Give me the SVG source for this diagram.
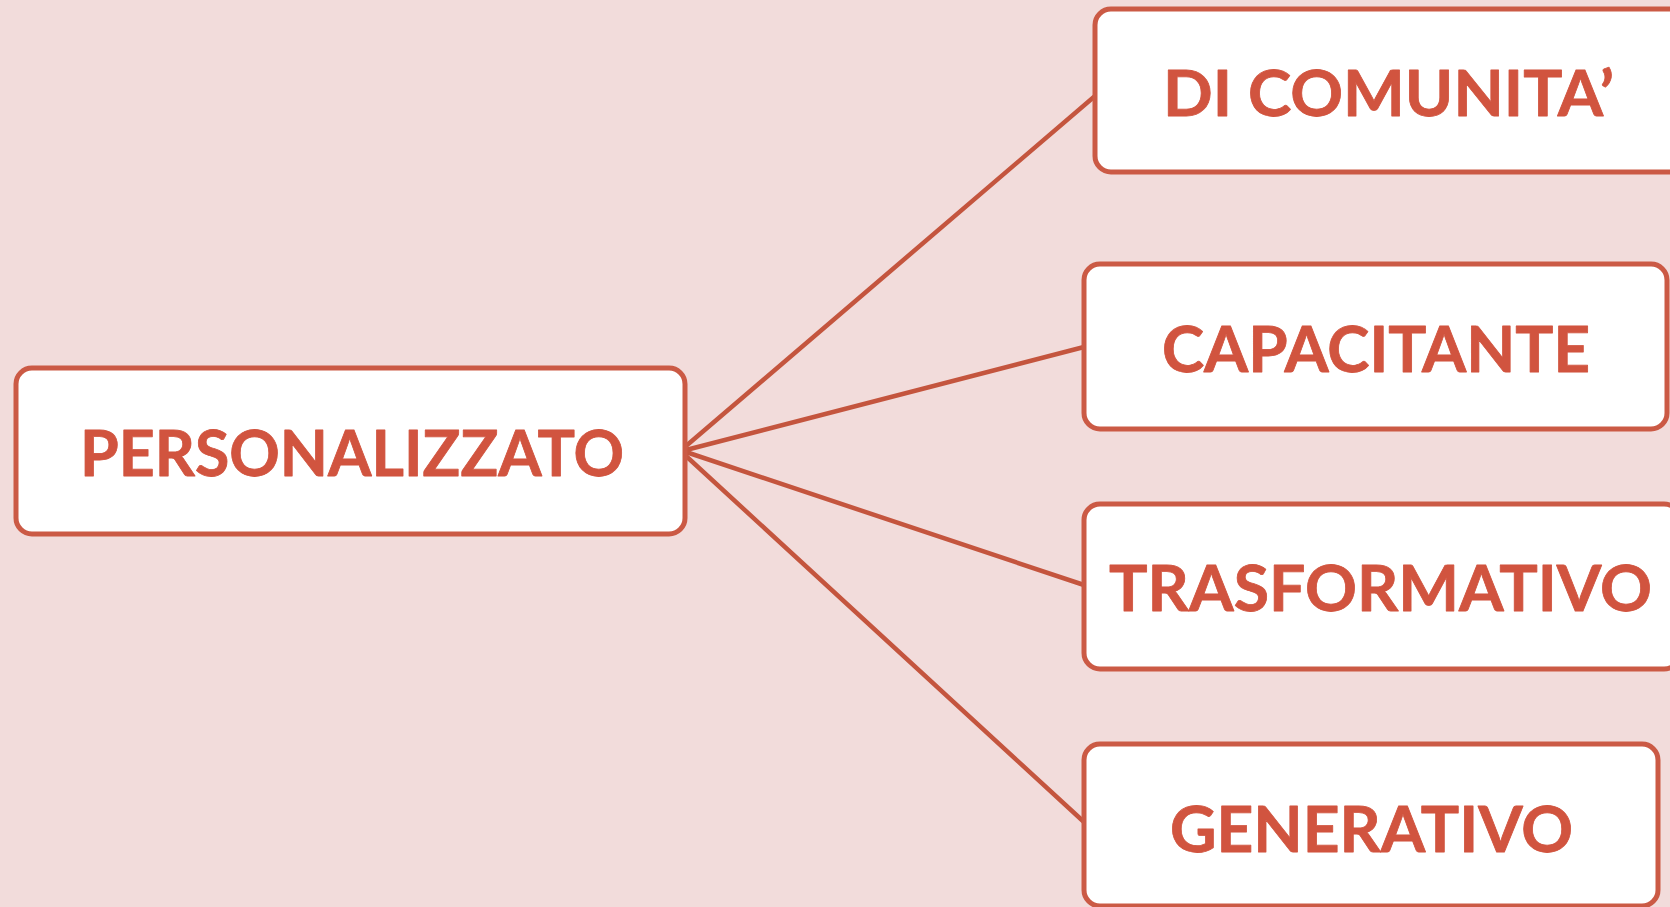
<svg xmlns="http://www.w3.org/2000/svg" width="1670" height="907" viewBox="0 0 1670 907">
  <style>
    .box { fill: #FFFFFF; stroke: #CB5A45; stroke-width: 5; }
    .link { stroke: #C4553E; stroke-width: 4.5; fill: none; stroke-linecap: round; }
    .label { font-family: Lato, "Open Sans", "Liberation Sans", sans-serif; font-weight: 700; font-size: 64px; fill: #D1543F; stroke: #D1543F; stroke-width: 0.8; stroke-linejoin: round; }
  </style>
  <rect x="0" y="0" width="1670" height="907" fill="#F2DCDB"/>

  <!-- connectors from the central node to each branch -->
  <g id="connectors">
    <line class="link" x1="686" y1="446" x2="1095" y2="96"/>
    <line class="link" x1="686" y1="450" x2="1084" y2="347"/>
    <line class="link" x1="686" y1="452" x2="1084" y2="585"/>
    <line class="link" x1="686" y1="456" x2="1084" y2="822"/>
  </g>

  <g id="node-personalizzato">
    <rect class="box" x="16" y="368" width="669" height="166" rx="16"/>
    <text class="label" x="80" y="476" textLength="544" lengthAdjust="spacingAndGlyphs">PERSONALIZZATO</text>
  </g>

  <g id="node-comunita">
    <rect class="box" x="1095" y="9" width="590" height="163" rx="16"/>
    <text class="label" x="1163" y="116" textLength="451" lengthAdjust="spacingAndGlyphs">DI COMUNITA’</text>
  </g>

  <g id="node-capacitante">
    <rect class="box" x="1084" y="264" width="583" height="165" rx="16"/>
    <text class="label" x="1162" y="372" textLength="428" lengthAdjust="spacingAndGlyphs">CAPACITANTE</text>
  </g>

  <g id="node-trasformativo">
    <rect class="box" x="1084" y="504" width="596" height="165" rx="16"/>
    <text class="label" x="1109" y="611" textLength="543" lengthAdjust="spacingAndGlyphs">TRASFORMATIVO</text>
  </g>

  <g id="node-generativo">
    <rect class="box" x="1084" y="744" width="574" height="162" rx="16"/>
    <text class="label" x="1170" y="852" textLength="403" lengthAdjust="spacingAndGlyphs">GENERATIVO</text>
  </g>
</svg>
